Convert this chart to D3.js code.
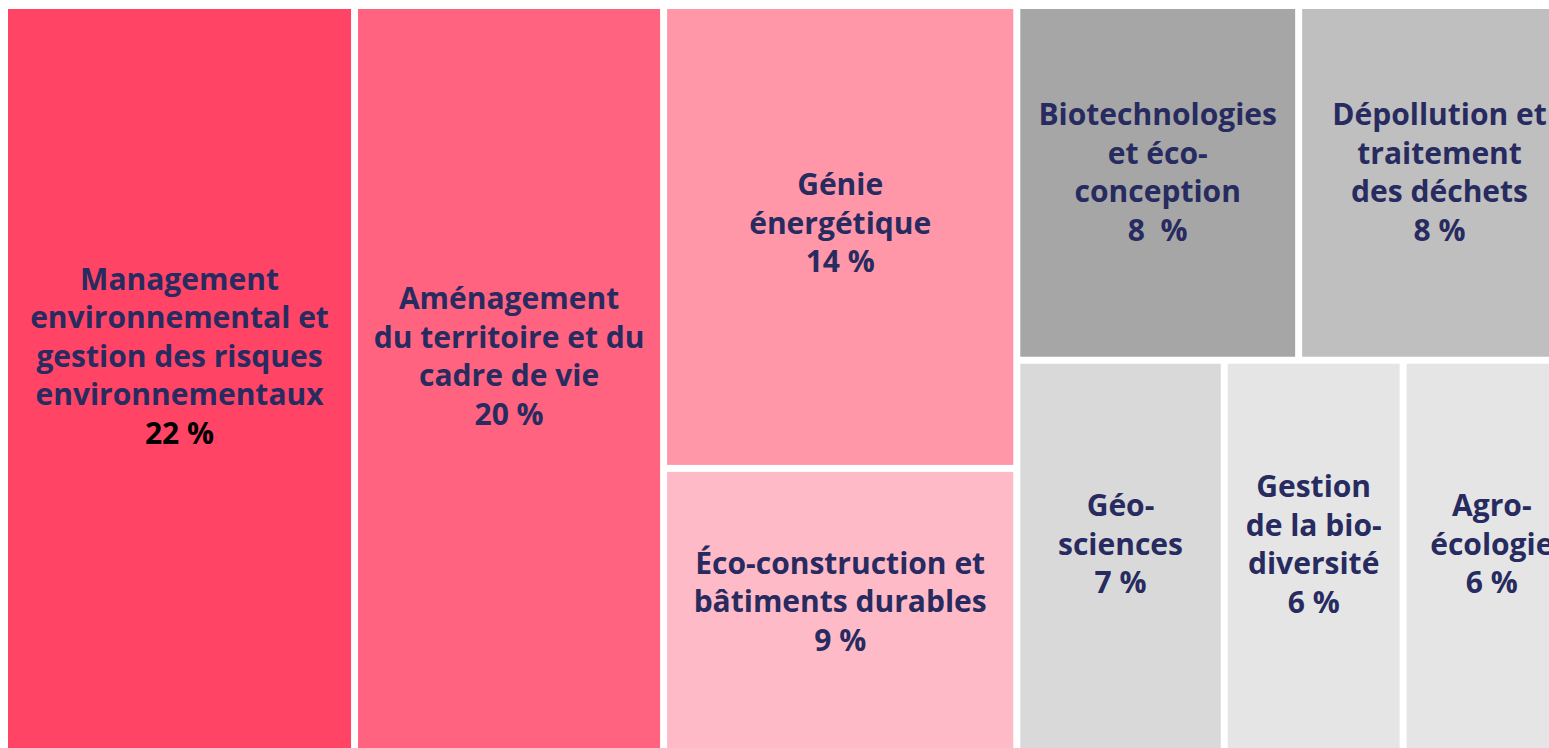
<!DOCTYPE html>
<html>
<head>
    <meta charset="utf-8">
    <style>
        body {
            margin: 0;
            background: #ffffff;
        }

        svg {
            display: block;
        }

        .tile-label {
            font-family: 'Open Sans', sans-serif;
            font-weight: bold;
            font-size: 30px;
        }
    </style>
</head>
<body>
    <svg width="1549" height="748"></svg>

    <script src="https://d3js.org/d3.v7.min.js"></script>
    <script>
        // filières, in the order they are laid out
        const names = [
            "Management environnemental",
            "Aménagement",
            "Génie énergétique",
            "Éco-construction",
            "Biotechnologies",
            "Dépollution",
            "Géosciences",
            "Biodiversité",
            "Agroécologie"
        ];

        // share of each tile (unrounded, estimated from tile areas)
        const shares = [22.2, 19.6, 13.9, 8.5, 8.5, 8.5, 6.9, 5.95, 5.9];

        // printed percentages
        const pctLabels = ["22 %", "20 %", "14 %", "9 %", "8  %", "8 %", "7 %", "6 %", "6 %"];

        // text lines as broken in the picture
        const labelLines = [
            ["Management", "environnemental et", "gestion des risques", "environnementaux"],
            ["Aménagement", "du territoire et du", "cadre de vie"],
            ["Génie", "énergétique"],
            ["Éco-construction et", "bâtiments durables"],
            ["Biotechnologies", "et éco-", "conception"],
            ["Dépollution et", "traitement", "des déchets"],
            ["Géo-", "sciences"],
            ["Gestion", "de la bio-", "diversité"],
            ["Agro-", "écologie"]
        ];

        // grouping: column, then row inside the last column
        const columns = ["c1", "c2", "c3", "c3", "c4", "c4", "c4", "c4", "c4"];
        const rows = [null, null, null, null, "r1", "r1", "r2", "r2", "r2"];

        const colors = ["#ff4466", "#ff6380", "#ff97a9", "#ffbac7", "#a6a6a6", "#bfbfbf", "#d9d9d9", "#e5e5e5", "#e5e5e5"];
        const pctColors = ["#000000", "#272b5f", "#272b5f", "#272b5f", "#272b5f", "#272b5f", "#272b5f", "#272b5f", "#272b5f"];

        let items = names.map((n, i) => ({
            name: n,
            share: shares[i],
            pct: pctLabels[i],
            lines: labelLines[i],
            col: columns[i],
            row: rows[i],
            color: colors[i],
            pctColor: pctColors[i]
        }));

        let tree = {
            children: d3.groups(items, d => d.col).map(([c, arr]) => ({
                children: arr[0].row
                    ? d3.groups(arr, d => d.row).map(([r, a]) => ({ children: a }))
                    : arr
            }))
        };

        let width = 1569;
        let height = 739;

        let root = d3.hierarchy(tree).sum(d => d.share || 0);

        d3.treemap()
            .tile(d3.treemapSliceDice)
            .size([width, height])
            .paddingInner(7)(root);

        let svg = d3.select("svg");

        let g = svg.append("g")
            .attr("transform", "translate(8,9)");

        let leaf = g.selectAll(".tile")
            .data(root.leaves())
            .join("g")
            .attr("class", "tile");

        leaf.append("rect")
            .attr("x", d => d.x0)
            .attr("y", d => d.y0)
            .attr("width", d => d.x1 - d.x0)
            .attr("height", d => d.y1 - d.y0)
            .style("fill", d => d.data.color);

        let lineH = 38.5;

        leaf.each(function (d) {
            let lines = d.data.lines.concat([d.data.pct]);
            let cx = (d.x0 + d.x1) / 2;
            let cy = d.y0 + (d.y1 - d.y0) * 0.47;
            let n = lines.length;

            d3.select(this).selectAll("text")
                .data(lines)
                .join("text")
                .attr("class", "tile-label")
                .attr("x", cx)
                .attr("y", (t, i) => cy + (i - (n - 1) / 2) * lineH)
                .attr("dy", "0.35em")
                .attr("text-anchor", "middle")
                .style("white-space", "pre")
                .style("fill", (t, i) => i === n - 1 ? d.data.pctColor : "#272b5f")
                .text(t => t);
        });
    </script>
</body>
</html>
